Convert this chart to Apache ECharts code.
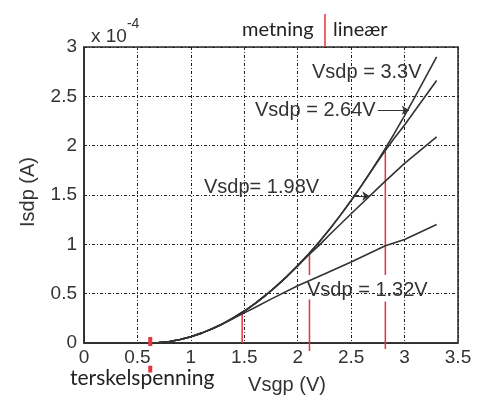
<!DOCTYPE html>
<html>
<head>
<meta charset="utf-8">
<script src="https://cdn.jsdelivr.net/npm/echarts@6/dist/echarts.min.js"></script>
<style>html,body{margin:0;padding:0;background:#fff;}#c{width:483px;height:405px;}</style>
</head>
<body>
<div id="c"></div>
<script>
// Data (Isdp in units of 1e-4 A)
const x132 = [0, 0.6, 0.7, 0.8, 0.9, 1.0, 1.1, 1.2, 1.3, 1.4, 1.5, 1.6, 1.75, 2.0, 2.25, 2.5, 2.82, 3.0, 3.3];
const y132 = [0, 0, 0.004, 0.016, 0.036, 0.064, 0.10, 0.144, 0.194, 0.25, 0.305, 0.36, 0.445, 0.58, 0.70, 0.82, 0.985, 1.05, 1.20];
const x198 = [0, 0.6, 0.7, 0.8, 0.9, 1.0, 1.1, 1.2, 1.3, 1.4, 1.5, 1.6, 1.7, 1.8, 1.9, 2.0, 2.1, 2.2, 2.3, 2.5, 2.8, 3.0, 3.3];
const y198 = [0, 0, 0.004, 0.016, 0.036, 0.064, 0.10, 0.144, 0.196, 0.256, 0.324, 0.40, 0.484, 0.576, 0.675, 0.78, 0.89, 0.99, 1.10, 1.31, 1.62, 1.82, 2.09];
const x264 = [0, 0.6, 0.7, 0.8, 0.9, 1.0, 1.1, 1.2, 1.3, 1.4, 1.5, 1.6, 1.7, 1.8, 1.9, 2.0, 2.1, 2.2, 2.3, 2.4, 2.5, 2.6, 2.7, 2.8, 2.9, 3.0, 3.3];
const y264 = [0, 0, 0.004, 0.016, 0.036, 0.064, 0.10, 0.144, 0.196, 0.256, 0.324, 0.40, 0.484, 0.576, 0.676, 0.784, 0.90, 1.02, 1.156, 1.296, 1.444, 1.60, 1.764, 1.92, 2.07, 2.21, 2.66];
const x330 = [0, 0.6, 0.7, 0.8, 0.9, 1.0, 1.1, 1.2, 1.3, 1.4, 1.5, 1.6, 1.7, 1.8, 1.9, 2.0, 2.1, 2.2, 2.3, 2.4, 2.5, 2.6, 2.7, 2.8, 2.9, 3.0, 3.1, 3.2, 3.3];
const y330 = [0, 0, 0.004, 0.016, 0.036, 0.064, 0.10, 0.144, 0.196, 0.256, 0.324, 0.40, 0.484, 0.576, 0.676, 0.784, 0.90, 1.024, 1.156, 1.296, 1.444, 1.60, 1.764, 1.936, 2.116, 2.304, 2.50, 2.70, 2.90];
const seriesNames = ['Vsdp = 1.32V', 'Vsdp= 1.98V', 'Vsdp = 2.64V', 'Vsdp = 3.3V'];
// Red saturation/linear boundary markers
const redX = [1.48, 2.11, 2.82];
const redTop = [0.30, 0.905, 1.94];
const redBottom = [0, -0.08, -0.06];
const gapLow = [null, 0.44, 0.42];
const gapHigh = [null, 0.69, 0.69];
const thresholdX = 0.62;
const xTicks = {min: 0, max: 3.5, interval: 0.5};
const yTicks = {min: 0, max: 3, interval: 0.5};

function pairs(xs, ys) { return xs.map((x, i) => [x, ys[i]]); }

const chart = echarts.init(document.getElementById('c'), null, {renderer: 'canvas'});
const dark = '#2b2b2b';
const red = '#e8323c';
const curveStyle = {color: '#333', width: 1.6};

const redSeries = redX.map((x, i) => {
  let data;
  if (gapLow[i] === null) data = [[x, redBottom[i]], [x, redTop[i]]];
  else data = [[x, redBottom[i]], [x, gapLow[i]], '-', [x, gapHigh[i]], [x, redTop[i]]];
  return {type: 'line', data: data, symbol: 'none', clip: false, silent: true, z: 1,
    lineStyle: {color: red, width: 1.5}, connectNulls: false};
});

const option = {
  animation: false,
  grid: {left: 84, right: 25, top: 47, bottom: 62, show: true, borderColor: dark, borderWidth: 1.5, backgroundColor: 'transparent'},
  xAxis: {
    type: 'value', min: xTicks.min, max: xTicks.max, interval: xTicks.interval,
    axisLine: {show: true, lineStyle: {color: dark, width: 1.5}},
    axisTick: {show: false},
    axisLabel: {color: '#333', fontSize: 19, fontFamily: 'Liberation Sans, Arial', margin: 5},
    splitLine: {show: true, lineStyle: {color: '#222', width: 1, type: [3, 2, 1, 2]}}
  },
  yAxis: {
    type: 'value', min: yTicks.min, max: yTicks.max, interval: yTicks.interval,
    axisLine: {show: true, lineStyle: {color: dark, width: 1.5}},
    axisTick: {show: false},
    axisLabel: {color: '#333', fontSize: 19, fontFamily: 'Liberation Sans, Arial', margin: 7},
    splitLine: {show: true, lineStyle: {color: '#222', width: 1, type: [3, 2, 1, 2]}}
  },
  series: [
    {name: seriesNames[0], type: 'line', data: pairs(x132, y132), symbol: 'none', lineStyle: curveStyle, z: 3},
    {name: seriesNames[1], type: 'line', data: pairs(x198, y198), symbol: 'none', lineStyle: curveStyle, z: 3,
      markLine: {silent: true, symbol: ['none', 'arrow'], symbolSize: 7, label: {show: false},
        lineStyle: {color: '#333', width: 1, type: 'solid'},
        data: [[{coord: [2.53, 1.49]}, {coord: [2.67, 1.49]}]]}},
    {name: seriesNames[2], type: 'line', data: pairs(x264, y264), symbol: 'none', lineStyle: curveStyle, z: 3,
      markLine: {silent: true, symbol: ['none', 'arrow'], symbolSize: 7, label: {show: false},
        lineStyle: {color: '#333', width: 1, type: 'solid'},
        data: [[{coord: [2.75, 2.36]}, {coord: [3.04, 2.36]}]]}},
    {name: seriesNames[3], type: 'line', data: pairs(x330, y330), symbol: 'none', lineStyle: curveStyle, z: 3},
    ...redSeries,
    {type: 'line', data: [[thresholdX, -0.03], [thresholdX, 0.06], '-', [thresholdX, -0.23], [thresholdX, -0.30]],
      symbol: 'none', clip: false, silent: true, z: 4, lineStyle: {color: red, width: 4}, connectNulls: false}
  ],
  graphic: [
    {type: 'text', left: 91, top: 17, style: {rich: {a: {fontSize: 19, fontFamily: 'Liberation Sans, Arial', fill: '#333', padding: [10, 0, 0, 0]}, b: {fontSize: 14, fontFamily: 'Liberation Sans, Arial', fill: '#333', verticalAlign: 'top'}}, text: '{a|x 10}{b|-4}'}},
    {type: 'text', left: 242, top: 20, style: {text: 'metning', fontSize: 20, fontFamily: 'Lato', fill: '#222'}},
    {type: 'line', shape: {x1: 325, y1: 14, x2: 325, y2: 47}, style: {stroke: red, lineWidth: 1.5}},
    {type: 'text', left: 333, top: 20, style: {text: 'lineær', fontSize: 20, fontFamily: 'Lato', fill: '#222'}},
    {type: 'text', left: 70, top: 368, style: {text: 'terskelspenning', fontSize: 21, fontFamily: 'Lato', fill: '#222'}},
    {type: 'text', x: 287, y: 385, style: {text: 'Vsgp (V)', fontSize: 20, fontFamily: 'Liberation Sans, Arial', fill: '#333', align: 'center', verticalAlign: 'middle'}},
    {type: 'text', x: 28, y: 192, rotation: Math.PI / 2, style: {text: 'Isdp (A)', fontSize: 20, fontFamily: 'Liberation Sans, Arial', fill: '#333', align: 'center', verticalAlign: 'middle'}},
    {type: 'text', left: 312, top: 62, z: 10, style: {text: seriesNames[3], fontSize: 20, fontFamily: 'Liberation Sans, Arial', fill: '#333'}},
    {type: 'text', left: 255, top: 100, z: 10, style: {text: seriesNames[2], fontSize: 20, fontFamily: 'Liberation Sans, Arial', fill: '#333'}},
    {type: 'text', left: 204, top: 177, z: 10, style: {text: seriesNames[1], fontSize: 20, fontFamily: 'Liberation Sans, Arial', fill: '#333'}},
    {type: 'text', left: 307, top: 280, z: 10, style: {text: seriesNames[0], fontSize: 20, fontFamily: 'Liberation Sans, Arial', fill: '#333'}}
  ]
};
chart.setOption(option);
</script>
</body>
</html>
